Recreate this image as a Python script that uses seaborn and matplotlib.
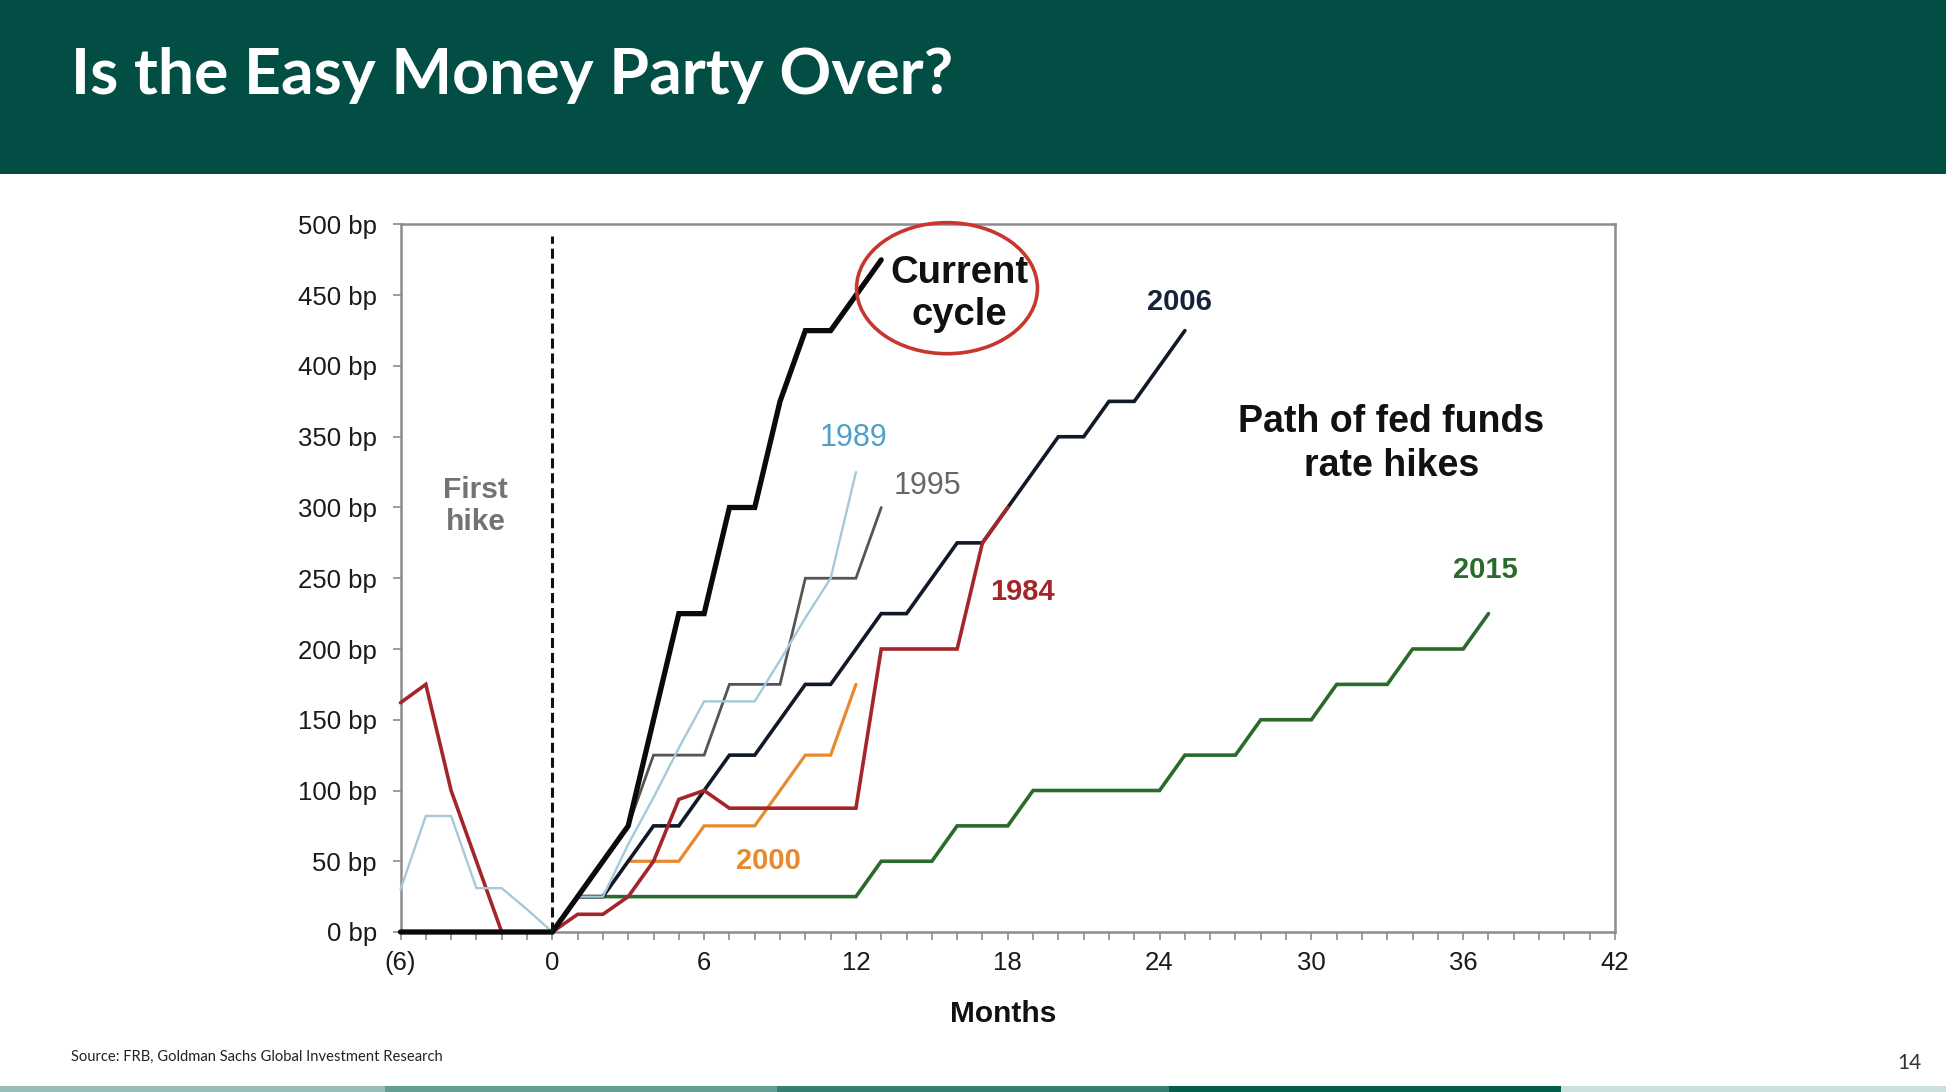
import matplotlib
matplotlib.use("Agg")
import matplotlib.pyplot as plt
from matplotlib.patches import Rectangle, Ellipse
import seaborn as sns
import pandas as pd

# ---------------- data (months after first hike, cumulative bp) ----------------
months_current = [-6, -5, -4, -3, -2, -1, 0, 1, 2, 3, 4, 5, 6, 7, 8, 9, 10, 11, 12, 13]
bp_current = [0, 0, 0, 0, 0, 0, 0, 25, 50, 75, 150, 225, 225, 300, 300, 375, 425, 425, 450, 475]

months_2006 = [0, 1, 2, 3, 4, 5, 6, 7, 8, 9, 10, 11, 12, 13, 14, 15, 16, 17, 18, 19, 20, 21, 22, 23, 24, 25]
bp_2006 = [0, 25, 25, 50, 75, 75, 100, 125, 125, 150, 175, 175, 200, 225, 225, 250, 275, 275, 300, 325,
           350, 350, 375, 375, 400, 425]

months_1984 = [-6, -5, -4, -3, -2, -1, 0, 1, 2, 3, 4, 5, 6, 7, 8, 9, 10, 11, 12, 13, 14, 15, 16, 17, 18]
bp_1984 = [162, 175, 100, 50, 0, 0, 0, 12.5, 12.5, 25, 50, 93.75, 100, 87.5, 87.5, 87.5, 87.5, 87.5, 87.5,
           200, 200, 200, 200, 275, 300]

months_1989 = [-6, -5, -4, -3, -2, -1, 0, 1, 2, 3, 4, 5, 6, 7, 8, 9, 10, 11, 12]
bp_1989 = [30, 82, 82, 31, 31, 16, 0, 25, 25, 62, 95, 130, 163, 163, 163, 192, 222, 250, 325]

months_1995 = [0, 1, 2, 3, 4, 5, 6, 7, 8, 9, 10, 11, 12, 13]
bp_1995 = [0, 25, 50, 75, 125, 125, 125, 175, 175, 175, 250, 250, 250, 300]

months_2000 = [3, 4, 5, 6, 7, 8, 9, 10, 11, 12]
bp_2000 = [50, 50, 50, 75, 75, 75, 100, 125, 125, 175]

months_2015 = [0, 1, 2, 3, 4, 5, 6, 7, 8, 9, 10, 11, 12, 13, 14, 15, 16, 17, 18, 19, 20, 21, 22, 23, 24,
               25, 26, 27, 28, 29, 30, 31, 32, 33, 34, 35, 36, 37]
bp_2015 = [0, 25, 25, 25, 25, 25, 25, 25, 25, 25, 25, 25, 25, 50, 50, 50, 75, 75, 75, 100, 100, 100, 100,
           100, 100, 125, 125, 125, 150, 150, 150, 175, 175, 175, 200, 200, 200, 225]

x_ticks = [-6, 0, 6, 12, 18, 24, 30, 36, 42]
x_ticklabels = ["(6)", "0", "6", "12", "18", "24", "30", "36", "42"]
y_ticks = [0, 50, 100, 150, 200, 250, 300, 350, 400, 450, 500]
y_ticklabels = [f"{v} bp" for v in y_ticks]
first_hike_month = 0

title = "Is the Easy Money Party Over?"
source = "Source: FRB, Goldman Sachs Global Investment Research"
page_no = "14"

# ---------------- style ----------------
sns.set_theme(style="white")
plt.rcParams["font.family"] = ["Liberation Sans", "DejaVu Sans"]

W, H = 1946, 1092
fig = plt.figure(figsize=(W / 100, H / 100), dpi=100)
fig.patch.set_facecolor("white")

# header band
fig.add_artist(Rectangle((0, 1 - 174 / H), 1, 174 / H, transform=fig.transFigure,
                         facecolor="#024E45", edgecolor="none", zorder=0))
fig.text(71 / W, 1 - 75 / H, title, color="white", fontsize=46.4, fontweight="bold",
         family=["Lato", "DejaVu Sans"], va="center", ha="left")

# bottom colour bars
bar_edges = [0, 385, 777, 1169, 1561, 1946]
bar_colors = ["#97BDB8", "#659E94", "#357E72", "#035E4E", "#CBE0DD"]
for i, c in enumerate(bar_colors):
    fig.add_artist(Rectangle((bar_edges[i] / W, 0), (bar_edges[i + 1] - bar_edges[i]) / W, 6 / H,
                             transform=fig.transFigure, facecolor=c, edgecolor="none"))

fig.text(71 / W, 1 - 1057 / H, source, fontsize=10.6, color="#222222",
         family=["Lato", "DejaVu Sans"], va="center", ha="left")
fig.text(1909 / W, 1 - 1063 / H, page_no, fontsize=15, color="#333333",
         family=["Lato", "DejaVu Sans"], va="center", ha="center")

# ---------------- axes ----------------
left, right, top, bottom = 400.5, 1615, 224.5, 932
ax = fig.add_axes([left / W, (H - bottom) / H, (right - left) / W, (bottom - top) / H])
ax.set_facecolor("white")

series = [
    (months_2015, bp_2015, "#2A6A2A", 2.6),
    (months_2000, bp_2000, "#E8892D", 2.3),
    (months_2006, bp_2006, "#111827", 2.6),
    (months_1984, bp_1984, "#A3262A", 2.6),
    (months_1995, bp_1995, "#555555", 2.0),
    (months_1989, bp_1989, "#A5C9DA", 1.7),
    (months_current, bp_current, "#0A0A0A", 3.8),
]
for m, v, c, lw in series:
    df = pd.DataFrame({"month": m, "bp": v})
    sns.lineplot(data=df, x="month", y="bp", ax=ax, color=c, linewidth=lw,
                 estimator=None, sort=False, legend=False, solid_joinstyle="miter")
for ln in ax.get_lines():
    ln.set_clip_on(False)

vl = ax.vlines(first_hike_month, 0, 492, colors="#111111", linewidth=2.2, zorder=5)
vl.set_linestyle((0, (3.3, 1.6)))

ax.set_xlim(-6, 42)
ax.set_ylim(0, 500)
ax.set_xticks(x_ticks)
ax.set_xticklabels(x_ticklabels)
ax.set_xticks(list(range(-6, 43)), minor=True)
ax.set_yticks(y_ticks)
ax.set_yticklabels(y_ticklabels)
ax.set_xlabel("")
ax.set_ylabel("")
for sp in ax.spines.values():
    sp.set_color("#8C8C8C")
    sp.set_linewidth(1.8)
    sp.set_visible(True)
    sp.set_zorder(1)
ax.tick_params(axis="x", which="both", direction="out", length=6, width=1.2, color="#8C8C8C",
               labelsize=18.5, labelcolor="#1a1a1a", pad=8, bottom=True)
ax.tick_params(axis="y", which="major", direction="out", length=6, width=1.2, color="#8C8C8C",
               labelsize=18.5, labelcolor="#1a1a1a", pad=11, left=True)
ax.grid(False)

# annotations
ax.text(-3.02, 301, "First\nhike", ha="center", va="center", fontsize=21.5, fontweight="bold",
        color="#737373", linespacing=1.15)
ax.text(16.1, 451, "Current\ncycle", ha="center", va="center", fontsize=27.5, fontweight="bold",
        color="#111111", linespacing=1.2)
ax.add_patch(Ellipse((15.6, 455), 7.15, 92.6, facecolor="none", edgecolor="#C8372D",
                     linewidth=2.6, clip_on=False, zorder=6))
ax.text(33.16, 345, "Path of fed funds\nrate hikes", ha="center", va="center", fontsize=27,
        fontweight="bold", color="#111111", linespacing=1.27)
ax.text(11.92, 349, "1989", ha="center", va="center", fontsize=22, color="#4FA0C8")
ax.text(14.82, 315, "1995", ha="center", va="center", fontsize=22, color="#666666")
ax.text(24.78, 445, "2006", ha="center", va="center", fontsize=21, fontweight="bold", color="#16223D")
ax.text(18.6, 240, "1984", ha="center", va="center", fontsize=21, fontweight="bold", color="#A3262A")
ax.text(8.54, 50, "2000", ha="center", va="center", fontsize=21, fontweight="bold", color="#E8892D")
ax.text(36.87, 256, "2015", ha="center", va="center", fontsize=21, fontweight="bold", color="#2A6A2A")

fig.text(1003 / W, 1 - 1014 / H, "Months", ha="center", va="center", fontsize=21.5,
         fontweight="bold", color="#111111")

fig.savefig("out.png", dpi=100, facecolor="white")
